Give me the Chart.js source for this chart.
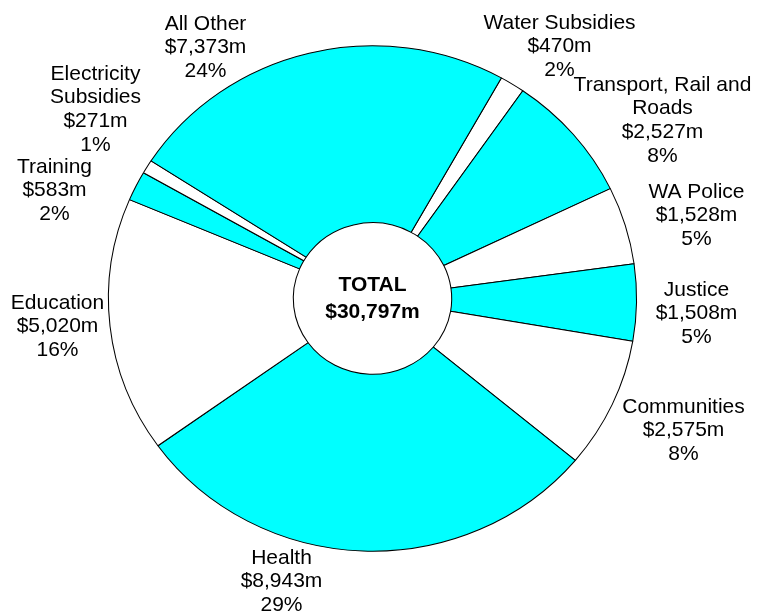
<!DOCTYPE html>
<html>
<head>
<meta charset="utf-8">
<script src="https://cdn.jsdelivr.net/npm/chart.js@4/dist/chart.umd.min.js"></script>
<style>
  html, body { margin: 0; padding: 0; background: #fff; }
  #wrap { width: 761px; height: 614px; position: relative; }
</style>
</head>
<body>
<div id="wrap"><canvas id="chart"></canvas></div>
<script>
// data, clockwise from the top-right
const categories = [
  ['Water Subsidies'],
  ['Transport, Rail and', 'Roads'],
  ['WA Police'],
  ['Justice'],
  ['Communities'],
  ['Health'],
  ['Education'],
  ['Training'],
  ['Electricity', 'Subsidies'],
  ['All Other']
];
const values = [470, 2527, 1528, 1508, 2575, 8943, 5020, 583, 271, 7373];
const totalValue = 30797;
const colors = ['#ffffff', '#00ffff', '#ffffff', '#00ffff', '#ffffff',
                '#00ffff', '#ffffff', '#00ffff', '#ffffff', '#00ffff'];

// label block centres, offset from the pie centre (px)
const labelOffsets = [
  [187, -252], [290, -178], [324, -83], [324, 15], [311, 132],
  [-91, 283], [-315, 28], [-318, -108], [-277, -189], [-167, -251]
];

const STRETCH_X = 1.045; // the original pie is a bit wider than tall
const LABEL_FONT = '21px "Liberation Sans", Arial, sans-serif';
const LINE_H = 23.6;

function fmt(v) {
  return '$' + v.toLocaleString('en-US') + 'm';
}

const stretchPlugin = {
  id: 'stretch',
  beforeDatasetsDraw(chart) {
    const arc = chart.getDatasetMeta(0).data[0];
    const ctx = chart.ctx;
    ctx.save();
    ctx.translate(arc.x, 0);
    ctx.scale(STRETCH_X, 1);
    ctx.translate(-arc.x, 0);
  },
  afterDatasetsDraw(chart) {
    chart.ctx.restore();
  }
};

const labelPlugin = {
  id: 'labels',
  afterDraw(chart) {
    const ctx = chart.ctx;
    const arc = chart.getDatasetMeta(0).data[0];
    const cx = arc.x, cy = arc.y;
    const sum = values.reduce((a, b) => a + b, 0);
    ctx.save();
    ctx.fillStyle = '#000';
    ctx.textAlign = 'center';
    ctx.textBaseline = 'middle';
    ctx.font = LABEL_FONT;
    categories.forEach((name, i) => {
      const lines = name.concat([fmt(values[i]), Math.round(values[i] / sum * 100) + '%']);
      const x = cx + labelOffsets[i][0];
      const y0 = cy + labelOffsets[i][1] - (lines.length - 1) * LINE_H / 2;
      lines.forEach((t, j) => ctx.fillText(t, x, y0 + j * LINE_H));
    });
    // centre text
    ctx.font = 'bold 21px "Liberation Sans", Arial, sans-serif';
    ctx.fillText('TOTAL', cx, cy - 13.5);
    ctx.fillText(fmt(totalValue), cx, cy + 13.5);
    ctx.restore();
  }
};

new Chart(document.getElementById('chart'), {
  type: 'doughnut',
  data: {
    labels: categories.map(c => c.join(' ')),
    datasets: [{
      data: values,
      backgroundColor: colors,
      borderColor: '#000',
      borderWidth: 1
    }]
  },
  options: {
    responsive: true,
    maintainAspectRatio: false,
    animation: false,
    rotation: 29.2,
    cutout: '30%',
    layout: { padding: { top: 45.3, bottom: 62.3, left: 100, right: 116 } },
    plugins: {
      legend: { display: false },
      tooltip: { enabled: false }
    }
  },
  plugins: [stretchPlugin, labelPlugin]
});
</script>
</body>
</html>
